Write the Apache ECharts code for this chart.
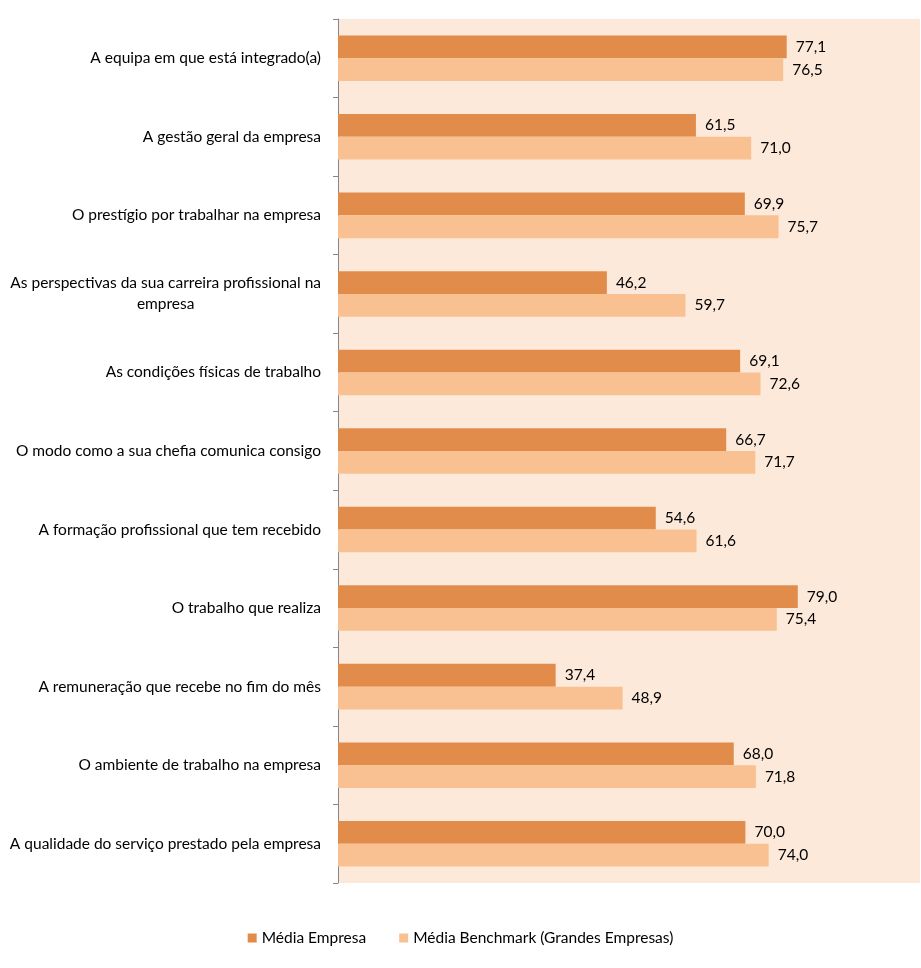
<!DOCTYPE html>
<html><head><meta charset="utf-8">
<script src="https://cdn.jsdelivr.net/npm/echarts@6/dist/echarts.min.js"></script>
<style>html,body{margin:0;padding:0;background:#fff}#c{width:921px;height:968px}</style>
</head><body><div id="c"></div>
<script>
var categories = [
  "A equipa em que está integrado(a)",
  "A gestão geral da empresa",
  "O prestígio por trabalhar na empresa",
  "As perspectivas da sua carreira profissional na\nempresa",
  "As condições físicas de trabalho",
  "O modo como a sua chefia comunica consigo",
  "A formação profissional que tem recebido",
  "O trabalho que realiza",
  "A remuneração que recebe no fim do mês",
  "O ambiente de trabalho na empresa",
  "A qualidade do serviço prestado pela empresa"
];
var seriesNames = ["Média Empresa", "Média Benchmark (Grandes Empresas)"];
var empresa = [77.1, 61.5, 69.9, 46.2, 69.1, 66.7, 54.6, 79.0, 37.4, 68.0, 70.0];
var benchmark = [76.5, 71.0, 75.7, 59.7, 72.6, 71.7, 61.6, 75.4, 48.9, 71.8, 74.0];

var FONT = 'Lato';
var FS = 15.5;
var chart = echarts.init(document.getElementById('c'), null, {renderer: 'canvas'});
function fmt(p){ return p.value.toFixed(1).replace('.', ','); }
var lbl = {show: true, position: 'right', distance: 9, formatter: fmt, color: '#000', fontSize: FS, fontFamily: FONT};
chart.setOption({
  animation: false,
  textStyle: {fontFamily: FONT},
  grid: {left: 338, right: 1, top: 19, bottom: 85, show: true, backgroundColor: '#FDE9DA', borderWidth: 0, containLabel: false},
  legend: {
    bottom: 17, left: 'center', itemWidth: 9, itemHeight: 9, itemGap: 33,
    icon: 'rect',
    textStyle: {fontSize: FS, fontFamily: FONT, color: '#000'},
    data: seriesNames
  },
  xAxis: {type: 'value', min: 0, max: 100, show: false, splitLine: {show: false}},
  yAxis: {
    type: 'category', inverse: true, data: categories,
    axisLine: {show: true, lineStyle: {color: '#868686', width: 1}},
    axisTick: {show: true, length: 5, lineStyle: {color: '#868686'}},
    axisLabel: {
      margin: 17, fontSize: FS, fontFamily: FONT, color: '#000', lineHeight: 21,
      formatter: function(v){
        if (v.indexOf('\n') >= 0) {
          return v.split('\n').map(function(s){ return '{c|' + s + '}'; }).join('\n');
        }
        return v;
      },
      rich: {c: {align: 'center', fontSize: FS, fontFamily: FONT, color: '#000', lineHeight: 21}}
    }
  },
  series: [
    {name: seriesNames[0], type: 'bar', data: empresa, barGap: '0%', barCategoryGap: '42%',
     itemStyle: {color: '#E28C4C'}, label: lbl},
    {name: seriesNames[1], type: 'bar', data: benchmark, barGap: '0%', barCategoryGap: '42%',
     itemStyle: {color: '#F9C191'}, label: lbl}
  ]
});
</script></body></html>
